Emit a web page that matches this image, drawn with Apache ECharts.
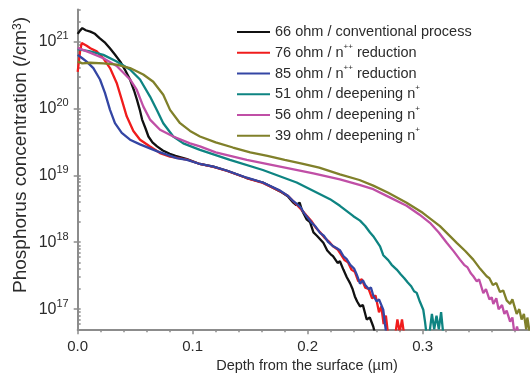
<!DOCTYPE html>
<html><head><meta charset="utf-8">
<script src="https://cdn.jsdelivr.net/npm/echarts@6/dist/echarts.min.js"></script>
<style>html,body{margin:0;padding:0;background:#fff}#c{width:530px;height:374px}</style>
</head><body><div id="c"></div>
<script>
// ---- data (depth in µm, concentration in /cm3) ----
const seriesNames = ['66 ohm / conventional process', '76 ohm / n++ reduction', '85 ohm / n++ reduction',
  '51 ohm / deepening n+', '56 ohm / deepening n+', '39 ohm / deepening n+'];
const colors = ['#111111', '#f01c1c', '#3446a4', '#0e8482', '#c04fa6', '#80802a'];
const xTicks = [0, 0.1, 0.2, 0.3];
const yTicks = [1e17, 1e18, 1e19, 1e20, 1e21];

const s66 = [[0,1.30e21],[0.002,1.45e21],[0.004,1.58e21],[0.007,1.47e21],[0.011,1.40e21],[0.015,1.30e21],[0.019,1.12e21],[0.024,9.5e20],[0.028,7.9e20],[0.032,6.5e20],[0.037,5.0e20],[0.041,3.8e20],[0.0455,2.7e20],[0.049,1.85e20],[0.0515,1.35e20],[0.054,9.5e19],[0.056,6.8e19],[0.059,5.0e19],[0.0615,3.8e19],[0.065,3.1e19],[0.069,2.7e19],[0.074,2.35e19],[0.080,2.1e19],[0.085,1.95e19],[0.095,1.74e19],[0.105,1.5e19],[0.118,1.35e19],[0.130,1.17e19],[0.147,9.1e18],[0.161,7.8e18],[0.176,5.75e18],[0.183,4.8e18],[0.1875,3.9e18],[0.190,3.6e18],[0.193,3.9e18],[0.195,3.0e18],[0.199,2.2e18],[0.202,2.0e18],[0.205,1.4e18],[0.208,1.25e18],[0.211,1.1e18],[0.2136,9.8e17],[0.217,7.5e17],[0.220,6.6e17],[0.222,6.2e17],[0.226,4.9e17],[0.228,5.2e17],[0.231,3.9e17],[0.234,3.0e17],[0.2368,2.45e17],[0.239,2.0e17],[0.241,1.55e17],[0.243,1.3e17],[0.2455,1.1e17],[0.248,1.15e17],[0.2513,7e16],[0.254,7.5e16],[0.257,5.5e16],[0.259,4e16]];

const s76 = [[0,3.5e20],[0.002,7e20],[0.0035,9.5e20],[0.005,1.0e21],[0.0078,8.6e20],[0.011,7.9e20],[0.0165,7.1e20],[0.0223,5.6e20],[0.0281,4.0e20],[0.0339,2.4e20],[0.0383,1.35e20],[0.0426,7.6e19],[0.0484,4.6e19],[0.0542,3.4e19],[0.0629,2.7e19],[0.0716,2.15e19],[0.0803,1.9e19],[0.095,1.72e19],[0.105,1.5e19],[0.118,1.34e19],[0.130,1.16e19],[0.147,9.1e18],[0.161,7.7e18],[0.176,5.8e18],[0.183,4.9e18],[0.1875,4.1e18],[0.190,3.7e18],[0.195,3.0e18],[0.199,2.5e18],[0.203,2.1e18],[0.207,1.65e18],[0.211,1.4e18],[0.215,1.15e18],[0.219,1.0e18],[0.222,8.7e17],[0.226,7.8e17],[0.229,6.5e17],[0.232,5.4e17],[0.235,5.0e17],[0.238,3.9e17],[0.241,3.6e17],[0.244,2.6e17],[0.247,2.8e17],[0.250,2.1e17],[0.253,2.0e17],[0.256,1.45e17],[0.259,1.6e17],[0.262,9e16],[0.264,1.1e17],[0.266,6e16],[0.268,8e16],[0.270,4e16],[0.276,4e16],[0.278,7e16],[0.280,4.5e16],[0.282,7e16],[0.284,4e16]];

const s85 = [[0,6.3e20],[0.004,5.6e20],[0.0078,5.0e20],[0.0136,4.0e20],[0.0194,2.7e20],[0.0237,1.7e20],[0.0281,9.5e19],[0.0324,6.0e19],[0.0383,4.3e19],[0.0455,3.4e19],[0.0542,2.9e19],[0.0687,2.3e19],[0.0861,1.8e19],[0.095,1.7e19],[0.105,1.5e19],[0.118,1.35e19],[0.130,1.17e19],[0.147,9.2e18],[0.161,7.8e18],[0.176,5.9e18],[0.183,4.9e18],[0.1875,4.1e18],[0.190,3.8e18],[0.194,3.3e18],[0.197,2.7e18],[0.199,2.45e18],[0.203,2.0e18],[0.207,1.7e18],[0.2107,1.38e18],[0.214,1.25e18],[0.218,1.0e18],[0.2222,8.7e17],[0.225,8.2e17],[0.228,7.6e17],[0.231,6.2e17],[0.2339,5.6e17],[0.237,4.6e17],[0.2405,4.0e17],[0.2426,3.3e17],[0.2455,2.4e17],[0.248,2.7e17],[0.250,2.3e17],[0.253,2.0e17],[0.255,2.1e17],[0.257,1.6e17],[0.260,1.3e17],[0.262,1.4e17],[0.2657,9.8e16],[0.2672,6e16],[0.2686,4e16]];

const s51 = [[0,7.7e20],[0.0107,7.1e20],[0.0223,6.3e20],[0.0339,5.0e20],[0.0455,3.8e20],[0.0542,2.7e20],[0.0629,1.5e20],[0.0687,9.5e19],[0.0744,6.0e19],[0.0831,3.8e19],[0.0918,3.0e19],[0.1063,2.4e19],[0.1324,1.7e19],[0.161,1.2e19],[0.1904,7.8e18],[0.2194,4.4e18],[0.228,3.5e18],[0.2397,2.45e18],[0.2455,2.1e18],[0.250,1.75e18],[0.2542,1.4e18],[0.257,1.23e18],[0.2629,8.7e17],[0.2657,6.4e17],[0.270,5.4e17],[0.273,4.6e17],[0.2774,3.9e17],[0.281,3.3e17],[0.284,2.9e17],[0.287,2.5e17],[0.290,2.2e17],[0.2925,1.85e17],[0.2948,1.75e17],[0.2975,1.3e17],[0.3005,9.8e16],[0.302,6.5e16],[0.3035,4e16],[0.306,4.5e16],[0.308,8.5e16],[0.310,5e16],[0.312,8e16],[0.314,5e16],[0.316,9e16],[0.318,4e16]];

const s56 = [[0,8.0e20],[0.0107,6.8e20],[0.0223,5.6e20],[0.0339,4.3e20],[0.0455,2.7e20],[0.0513,1.9e20],[0.057,1.07e20],[0.0629,6.8e19],[0.0716,4.8e19],[0.0831,3.8e19],[0.0977,3.0e19],[0.1063,2.7e19],[0.120,2.2e19],[0.147,1.7e19],[0.176,1.35e19],[0.2049,1.07e19],[0.228,8.7e18],[0.245,7.2e18],[0.257,6.2e18],[0.270,4.8e18],[0.286,3.5e18],[0.297,2.6e18],[0.3063,1.95e18],[0.314,1.4e18],[0.3209,9.8e17],[0.327,7.3e17],[0.3324,5.5e17],[0.336,4.6e17],[0.339,4.2e17],[0.342,3.4e17],[0.344,3.1e17],[0.347,2.6e17],[0.349,2.8e17],[0.3527,1.74e17],[0.355,2.0e17],[0.358,1.4e17],[0.360,1.5e17],[0.3614,1.2e17],[0.364,1.45e17],[0.366,1.0e17],[0.369,1.15e17],[0.371,8.5e16],[0.373,9.5e16],[0.376,6.5e16],[0.378,7.5e16],[0.380,4e16],[0.382,5.5e16],[0.384,4e16]];

const s39 = [[0,5.0e20],[0.004,4.7e20],[0.0107,4.8e20],[0.0223,4.7e20],[0.0339,4.5e20],[0.0455,4.0e20],[0.057,3.2e20],[0.0657,2.5e20],[0.0744,1.6e20],[0.0803,9.5e19],[0.089,6.0e19],[0.0977,4.6e19],[0.1063,3.8e19],[0.120,3.1e19],[0.135,2.6e19],[0.150,2.2e19],[0.165,1.95e19],[0.180,1.7e19],[0.195,1.5e19],[0.210,1.3e19],[0.228,1.03e19],[0.245,8.5e18],[0.257,7.0e18],[0.270,5.5e18],[0.286,3.9e18],[0.300,2.75e18],[0.315,1.74e18],[0.3296,9.8e17],[0.337,7.4e17],[0.344,5.5e17],[0.350,4.0e17],[0.3556,3.1e17],[0.358,2.9e17],[0.361,2.3e17],[0.364,2.45e17],[0.3672,1.8e17],[0.370,1.9e17],[0.373,1.35e17],[0.376,1.2e17],[0.378,1.4e17],[0.3817,8.5e16],[0.384,1.0e17],[0.386,7e16],[0.388,8.5e16],[0.390,5e16],[0.391,7.5e16],[0.393,4.5e16]];

const seriesData = [s66, s76, s85, s51, s56, s39];

// ---- minor tick positions ----
const xMinor = [];
for (let i = 1; i <= 19; i++) { if (i % 5 !== 0) xMinor.push(+(i * 0.02).toFixed(2)); }
const yMinor = [];
for (let e = 16; e <= 21; e++) { for (let k = 1; k <= 9; k++) { const v = k * Math.pow(10, e); if (v >= 5e16 && v <= 3e21) yMinor.push(v); } }

const FONT = '"Liberation Sans", Arial, Helvetica, sans-serif';
const AX = '#8c8c8c';
const TXT = '#2b2b2b';

const chart = echarts.init(document.getElementById('c'), null, {renderer: 'canvas'});
const series = seriesData.map((d, i) => ({
  type: 'line', name: seriesNames[i], data: d, xAxisIndex: 0, yAxisIndex: 0,
  showSymbol: false, symbol: 'none', clip: true,
  lineStyle: {width: 2.3, color: colors[i]}, itemStyle: {color: colors[i]}
}));

chart.setOption({
  animation: false,
  grid: {left: 77.7, top: 9.5, width: 452.3, height: 319.8},
  xAxis: [
    {type: 'value', min: 0, max: 0.3933, position: 'bottom',
     axisLine: {show: true, onZero: false, lineStyle: {color: AX, width: 2}},
     axisTick: {show: true, customValues: xTicks, length: 5, lineStyle: {color: AX, width: 1.5}},
     axisLabel: {customValues: xTicks, formatter: v => v.toFixed(1), fontSize: 15, color: TXT, margin: 10, fontFamily: FONT},
     splitLine: {show: false}},
    {type: 'value', min: 0, max: 0.3933, position: 'bottom',
     axisLine: {show: false, onZero: false},
     axisTick: {show: true, customValues: xMinor, length: 3, lineStyle: {color: AX, width: 1.5}},
     axisLabel: {show: false}, splitLine: {show: false}}
  ],
  yAxis: [
    {type: 'log', logBase: 10, min: 5e16, max: 3e21, position: 'left',
     axisLine: {show: true, onZero: false, lineStyle: {color: AX, width: 2}},
     axisTick: {show: true, customValues: yTicks, length: 4, lineStyle: {color: AX, width: 1.5}},
     axisLabel: {customValues: yTicks, margin: 9,
       formatter: v => '{b|10}{s|' + Math.round(Math.log10(v)) + '}',
       rich: {b: {fontSize: 16, lineHeight: 22, fontFamily: FONT, color: TXT},
              s: {fontSize: 11, verticalAlign: 'top', fontFamily: FONT, color: TXT}}},
     splitLine: {show: false}},
    {type: 'log', logBase: 10, min: 5e16, max: 3e21, position: 'left',
     axisLine: {show: false, onZero: false},
     axisTick: {show: true, inside: true, customValues: yMinor, length: 3, lineStyle: {color: AX, width: 1.5}},
     axisLabel: {show: false}, splitLine: {show: false}}
  ],
  legend: {
    orient: 'vertical', left: 237, top: 22, padding: 0, itemWidth: 33, itemHeight: 2, itemGap: 0.75,
    icon: 'rect', data: seriesNames,
    formatter: name => name.replace(/n(\+\+?)/, 'n{s|$1}'),
    textStyle: {fontSize: 14.5, fontFamily: FONT, color: TXT, lineHeight: 20,
      rich: {s: {fontSize: 8, verticalAlign: 'top', fontFamily: FONT, color: TXT}}}
  },
  graphic: [
    {type: 'text', x: 21, y: 155, rotation: Math.PI / 2,
     style: {text: 'Phosphorus concentration (/cm{s|3})', fontSize: 19, fontFamily: FONT, fill: TXT,
       align: 'center', verticalAlign: 'middle',
       rich: {s: {fontSize: 12, verticalAlign: 'top', fontFamily: FONT, fill: TXT}}}},
    {type: 'text', x: 307, y: 366,
     style: {text: 'Depth from the surface (\u00b5m)', fontSize: 14.5, fontFamily: FONT, fill: TXT,
       align: 'center', verticalAlign: 'middle'}}
  ],
  series: series
});
</script></body></html>
